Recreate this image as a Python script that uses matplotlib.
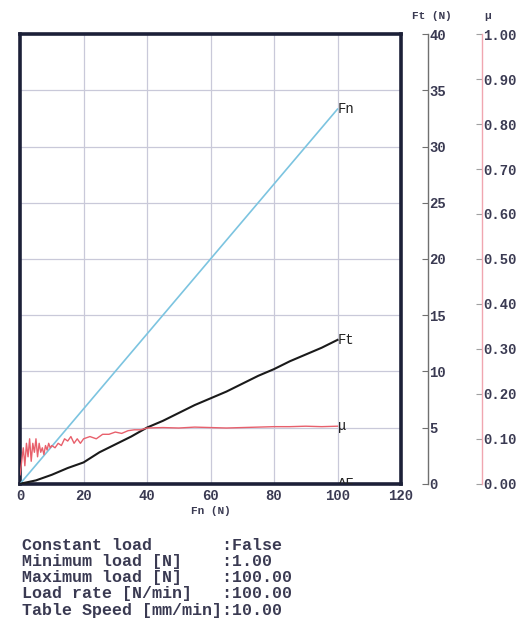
import matplotlib.pyplot as plt

# Load ramp (Fn, N) and measured tangential force (Ft, N)
load = [0, 5, 10, 15, 20, 25, 30, 35, 40, 45, 50, 55, 60, 65, 70, 75, 80, 85, 90, 95, 100]
ft = [0.0, 0.3, 0.8, 1.4, 1.9, 2.8, 3.5, 4.2, 5.0, 5.6, 6.3, 7.0, 7.6, 8.2, 8.9, 9.6, 10.2, 10.9, 11.5, 12.1, 12.8]

# Friction coefficient, noisy at low load
mu_load = [0, 0.5, 1, 1.5, 2, 2.5, 3, 3.5, 4, 4.5, 5, 5.5, 6, 6.5, 7, 7.5, 8, 8.5, 9, 9.5,
           10, 11, 12, 13, 14, 15, 16, 17, 18, 19, 20, 22, 24, 26, 28, 30, 32, 34, 36, 38,
           40, 45, 50, 55, 60, 65, 70, 75, 80, 85, 90, 95, 100]
mu = [0.02, 0.05, 0.08, 0.04, 0.09, 0.06, 0.10, 0.05, 0.09, 0.07, 0.10, 0.06, 0.09, 0.07, 0.08,
      0.065, 0.085, 0.075, 0.09, 0.08, 0.085, 0.08, 0.09, 0.085, 0.10, 0.095, 0.105, 0.09, 0.10,
      0.09, 0.10, 0.105, 0.10, 0.11, 0.11, 0.115, 0.112, 0.118, 0.12, 0.12, 0.124, 0.125, 0.124,
      0.126, 0.125, 0.124, 0.125, 0.126, 0.127, 0.127, 0.128, 0.127, 0.128]

x_ticks = [0, 20, 40, 60, 80, 100, 120]
ft_ticks = [0, 5, 10, 15, 20, 25, 30, 35, 40]
mu_ticks = [0.0, 0.1, 0.2, 0.3, 0.4, 0.5, 0.6, 0.7, 0.8, 0.9, 1.0]

param_names = ['Constant load', 'Minimum load [N]', 'Maximum load [N]',
               'Load rate [N/min]', 'Table Speed [mm/min]']
param_values = ['False', '1.00', '100.00', '100.00', '10.00']

mono = 'Liberation Mono'
txt = '#3a3a52'
frame = '#1c2038'
grid_c = '#c9c9d9'

fig = plt.figure(figsize=(5.29, 6.21), dpi=100)
ax = fig.add_axes([0.038, 0.221, 0.720, 0.724])
ax.set_xlim(0, 120)
ax.set_ylim(0, 40)
ax.set_xticks(x_ticks)
ax.set_xticklabels([str(v) for v in x_ticks], family=mono, weight='bold', size=10, color=txt)
ax.set_yticks(ft_ticks)
ax.tick_params(axis='y', length=0, labelleft=False)
ax.tick_params(axis='x', length=0, pad=4)
ax.grid(True, color=grid_c, lw=0.9)
for s in ax.spines.values():
    s.set_color(frame)
    s.set_linewidth(2.6)
ax.set_xlabel('Fn (N)', family=mono, weight='bold', size=8, color=txt, labelpad=2)

# Fn on its own (hidden) 0-120 scale
ax_fn = ax.twinx()
ax_fn.set_ylim(0, 120)
ax_fn.axis('off')
ax_fn.plot(load, load, color='#7cc4e0', lw=1.2)
ax_fn.text(100, 100, 'Fn', family=mono, size=10, color='#222', ha='left', va='center')

# Ft axis
ax_ft = ax.twinx()
ax_ft.set_ylim(0, 40)
for k in ['top', 'bottom', 'left']:
    ax_ft.spines[k].set_visible(False)
ax_ft.spines['right'].set_position(('axes', 1.071))
ax_ft.spines['right'].set_color('#707070')
ax_ft.spines['right'].set_linewidth(1.0)
ax_ft.set_yticks(ft_ticks)
ax_ft.set_yticklabels([str(v) for v in ft_ticks], family=mono, weight='bold', size=10, color=txt)
ax_ft.tick_params(axis='y', direction='in', length=4, pad=1, color='#707070')
ax_ft.plot(load, ft, color='#1a1a1a', lw=1.5)
ax_ft.text(100, ft[-1], 'Ft', family=mono, size=10, color='#222', ha='left', va='center')
ax_ft.text(100, -0.6, 'ΔF', family=mono, size=10, color='#222', ha='left', va='bottom', clip_on=True)
ax_ft.text(1.081, 1.03, 'Ft (N)', transform=ax_ft.transAxes, family=mono, weight='bold',
           size=8, color=txt, ha='center', va='bottom')

# Friction coefficient axis
ax_mu = ax.twinx()
ax_mu.set_ylim(0, 1)
for k in ['top', 'bottom', 'left']:
    ax_mu.spines[k].set_visible(False)
ax_mu.spines['right'].set_position(('axes', 1.213))
ax_mu.spines['right'].set_color('#f0a6b0')
ax_mu.spines['right'].set_linewidth(1.0)
ax_mu.set_yticks(mu_ticks)
ax_mu.set_yticklabels([f'{v:.2f}' for v in mu_ticks], family=mono, weight='bold', size=10, color=txt)
ax_mu.tick_params(axis='y', direction='in', length=4, pad=1, color='#a0a0a0')
ax_mu.plot(mu_load, mu, color='#e8606c', lw=1.0)
ax_mu.text(100, mu[-1], 'μ', family=mono, size=10, color='#222', ha='left', va='center')
ax_mu.text(1.228, 1.03, 'μ', transform=ax_mu.transAxes, family=mono, weight='bold',
           size=8, color=txt, ha='center', va='bottom')

# Test parameters below the chart
for i, (name, val) in enumerate(zip(param_names, param_values)):
    y = 1 - (545 + 16.3 * i) / 621
    fig.text(0.042, y, f'{name:<20s}:{val}', family=mono, weight='bold', size=12,
             color=txt, ha='left', va='center')

fig.savefig('out.png', dpi=100)
